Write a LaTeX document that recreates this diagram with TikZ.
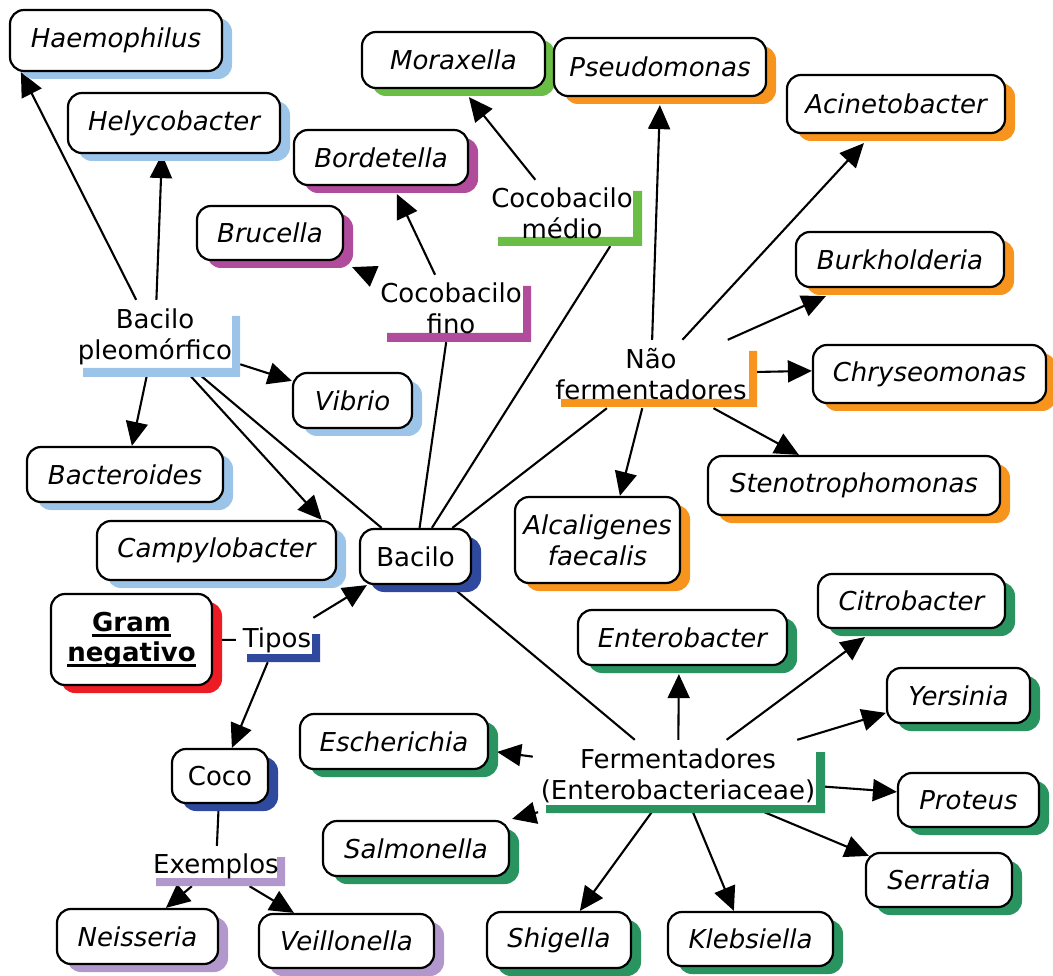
\documentclass[tikz,border=0pt]{standalone}
\usepackage{fontspec}
\setmainfont{DejaVu Sans}
\usetikzlibrary{arrows.meta,shadows}
\pgfdeclarelayer{bg}
\pgfsetlayers{bg,main}
\definecolor{lblue}{RGB}{155,196,232}
\definecolor{lgreen}{RGB}{106,189,69}
\definecolor{orng}{RGB}{247,148,29}
\definecolor{magn}{RGB}{176,76,155}
\definecolor{dblue}{RGB}{46,73,158}
\definecolor{gred}{RGB}{237,28,36}
\definecolor{dgreen}{RGB}{42,148,96}
\definecolor{lav}{RGB}{177,151,204}
\newcommand\gul[1]{\setbox0\hbox{#1}\rlap{\rule[-5.5pt]{\wd0}{2.4pt}}\box0}
\tikzset{
  cbox/.style={draw=black, line width=2.2pt, rounded corners=14pt, fill=white,
    inner sep=2pt, align=center,
    general shadow={fill=#1, shadow xshift=10pt, shadow yshift=-8pt}},
  sp/.style={font=\fontsize{26}{31}\selectfont\itshape},
  phr/.style={inner sep=0pt, align=center},
  conn/.style={line width=2.1pt},
  arr/.style={conn, -{Triangle[length=24pt,width=22pt]}},
}
\begin{document}
\begin{tikzpicture}[x=1pt,y=-1pt,font=\fontsize{26}{31}\selectfont]
\useasboundingbox (0,0) rectangle (1053,976);
% brackets
\fill[lblue] (83,368) rectangle (240,377) (232,316) rectangle (240,377);
\fill[magn] (387,333) rectangle (531,342) (523,286) rectangle (531,342);
\fill[lgreen] (498,237) rectangle (642,246) (633,191) rectangle (642,246);
\fill[orng] (561,399) rectangle (757,407) (749,351) rectangle (757,407);
\fill[dblue] (247,654) rectangle (320,662) (312,634) rectangle (320,662);
\fill[dgreen] (546,805) rectangle (825,813) (816,752) rectangle (825,813);
\fill[lav] (156,878) rectangle (285,886) (277,857) rectangle (285,886);
% linking phrases
\node[phr, minimum width=170pt, minimum height=74pt] (Pleo) at (155,337) {Bacilo\\pleomórfico};
\node[phr, minimum width=160pt, minimum height=67pt] (Fino) at (451,308.5) {Cocobacilo\\fino};
\node[phr, minimum width=160pt, minimum height=66pt] (Medio) at (562,213) {Cocobacilo\\médio};
\node[phr, minimum width=212pt, minimum height=68pt] (Nao) at (651,374) {Não\\fermentadores};
\node[phr, minimum width=82pt, minimum height=44pt] (Tipos) at (277,640) {Tipos};
\node[phr, minimum width=290pt, minimum height=72pt] (Ferm) at (678,776) {Fermentadores\\(Enterobacteriaceae)};
\node[phr, minimum width=134pt, minimum height=40pt] (Exem) at (216,866) {Exemplos};
% concept boxes
\node[cbox=lblue, sp, minimum width=212pt, minimum height=61pt] (Haem) at (116,40.5) {Haemophilus};
\node[cbox=lblue, sp, minimum width=212pt, minimum height=60pt] (Hely) at (174,123) {Helycobacter};
\node[cbox=lgreen, sp, minimum width=183pt, minimum height=56pt] (Mora) at (453.5,60) {Moraxella};
\node[cbox=orng, sp, minimum width=212pt, minimum height=58pt] (Pseu) at (660,67) {Pseudomonas};
\node[cbox=orng, sp, minimum width=218pt, minimum height=58pt] (Acin) at (896,104) {Acinetobacter};
\node[cbox=magn, sp, minimum width=174pt, minimum height=55pt] (Bord) at (381,157.5) {Bordetella};
\node[cbox=magn, sp, minimum width=146pt, minimum height=54pt] (Bruc) at (270,233) {Brucella};
\node[cbox=orng, sp, minimum width=208pt, minimum height=55pt] (Burk) at (900,259.5) {Burkholderia};
\node[cbox=orng, sp, minimum width=233pt, minimum height=58pt] (Chry) at (929.5,374) {Chryseomonas};
\node[cbox=lblue, sp, minimum width=119pt, minimum height=55pt] (Vib) at (352.5,400.5) {Vibrio};
\node[cbox=lblue, sp, minimum width=196pt, minimum height=55pt] (Bact) at (125,474.5) {Bacteroides};
\node[cbox=orng, sp, minimum width=292pt, minimum height=59pt] (Sten) at (854,485.5) {Stenotrophomonas};
\node[cbox=orng, sp, minimum width=165pt, minimum height=86pt] (Alca) at (597.5,540) {Alcaligenes\\faecalis};
\node[cbox=lblue, sp, minimum width=239pt, minimum height=59pt] (Camp) at (216.5,550.5) {Campylobacter};
\node[cbox=dblue, minimum width=111pt, minimum height=55pt] (Baci) at (415.5,556.5) {Bacilo};
\node[cbox=gred, minimum width=161pt, minimum height=91pt, font=\fontsize{26}{30}\selectfont\bfseries] (Gram) at (131.5,639.5) {\gul{Gram}\\\gul{negativo}};
\node[cbox=dgreen, sp, minimum width=187pt, minimum height=54pt] (Citr) at (911.5,601) {Citrobacter};
\node[cbox=dgreen, sp, minimum width=209pt, minimum height=55pt] (Ente) at (682.5,637.5) {Enterobacter};
\node[cbox=dgreen, sp, minimum width=143pt, minimum height=55pt] (Yers) at (958.5,695.5) {Yersinia};
\node[cbox=dgreen, sp, minimum width=188pt, minimum height=55pt] (Esch) at (394,741.5) {Escherichia};
\node[cbox=dblue, minimum width=96pt, minimum height=54pt] (Coco) at (220,776) {Coco};
\node[cbox=dgreen, sp, minimum width=141pt, minimum height=54pt] (Prot) at (968.5,800) {Proteus};
\node[cbox=dgreen, sp, minimum width=186pt, minimum height=55pt] (Salm) at (416,848.5) {Salmonella};
\node[cbox=dgreen, sp, minimum width=146pt, minimum height=54pt] (Serr) at (939,880) {Serratia};
\node[cbox=lav, sp, minimum width=161pt, minimum height=55pt] (Neis) at (137.5,936.5) {Neisseria};
\node[cbox=lav, sp, minimum width=175pt, minimum height=54pt] (Veil) at (346.5,941) {Veillonella};
\node[cbox=dgreen, sp, minimum width=144pt, minimum height=56pt] (Shig) at (559,940) {Shigella};
\node[cbox=dgreen, sp, minimum width=165pt, minimum height=54pt] (Kleb) at (750.5,939) {Klebsiella};
% connectors
\begin{pgfonlayer}{bg}
\draw[conn] (Gram) -- (Tipos);
\draw[arr] (Tipos) -- ([shift={(8,0)}]Baci.south west);
\draw[arr] (Tipos) -- ([shift={(61,0)}]Coco.north west);
\draw[conn] (Coco) -- (Exem);
\draw[arr] (Exem) -- ([shift={(110,0)}]Neis.north west);
\draw[arr] (Exem) -- ([shift={(36,0)}]Veil.north west);
\draw[conn] (Baci) -- (Pleo);
\draw[conn] (Baci) -- (Fino);
\draw[conn] ([shift={(73,0)}]Baci.north west) -- ([shift={(-32,0)}]Medio.south east);
\draw[conn] (Baci) -- (Nao);
\draw[conn] (Baci) -- (Ferm);
\draw[arr] (Pleo) -- ([shift={(12,0)}]Haem.south west);
\draw[arr] (Pleo) -- ([shift={(95,0)}]Hely.south west);
\draw[arr] (Pleo) -- ([shift={(0,9)}]Vib.north west);
\draw[arr] (Pleo) -- ([shift={(106,0)}]Bact.north west);
\draw[arr] (Pleo) -- ([shift={(226,0)}]Camp.north west);
\draw[arr] (Fino) -- ([shift={(104,8)}]Bord.south west);
\draw[arr] (Fino) -- ([shift={(8,6)}]Bruc.south east);
\draw[arr] (Medio) -- ([shift={(108,8)}]Mora.south west);
\draw[arr] (Nao) -- ([shift={(107,8)}]Pseu.south west);
\draw[arr] (Nao) -- ([shift={(78,9)}]Acin.south west);
\draw[arr] (Nao) -- ([shift={(31,8)}]Burk.south west);
\draw[arr] (Nao) -- ([shift={(0,27)}]Chry.north west);
\draw[arr] (Nao) -- ([shift={(92,0)}]Sten.north west);
\draw[arr] (Nao) -- ([shift={(106,0)}]Alca.north west);
\draw[arr] (Ferm) -- ([shift={(102,8)}]Ente.south west);
\draw[arr] (Ferm) -- ([shift={(48,8)}]Citr.south west);
\draw[arr] (Ferm) -- ([shift={(0,46)}]Yers.north west);
\draw[arr] (Ferm) -- ([shift={(8,39)}]Esch.north east);
\draw[arr] (Ferm) -- ([shift={(2,-1)}]Salm.north east);
\draw[arr] (Ferm) -- ([shift={(0,20)}]Prot.north west);
\draw[arr] (Ferm) -- ([shift={(4,4)}]Serr.north west);
\draw[arr] (Ferm) -- ([shift={(94,0)}]Shig.north west);
\draw[arr] (Ferm) -- ([shift={(67,0)}]Kleb.north west);
\end{pgfonlayer}
\end{tikzpicture}
\end{document}
